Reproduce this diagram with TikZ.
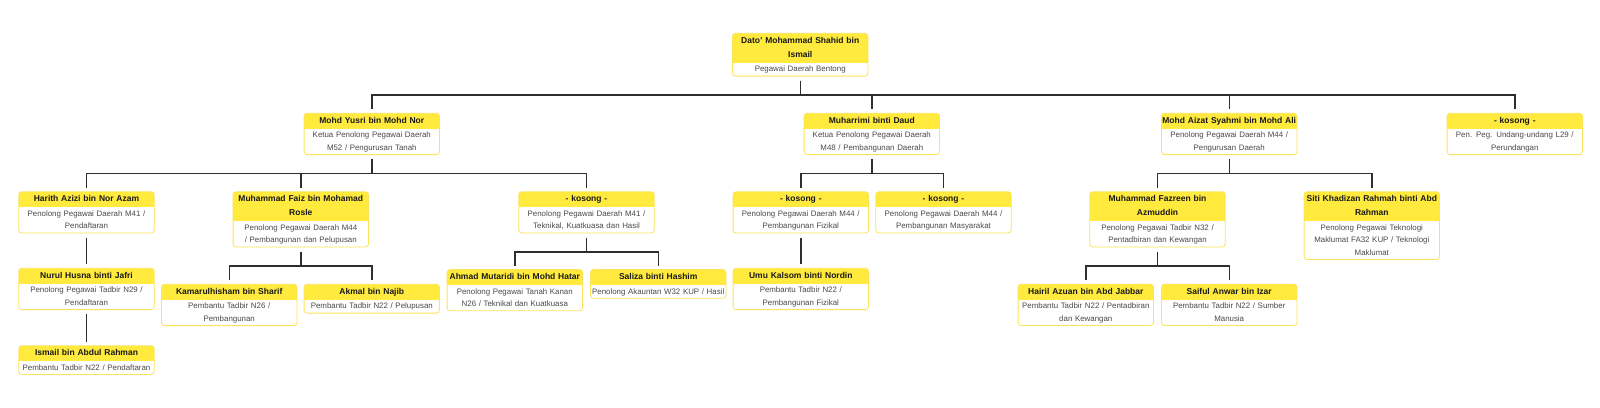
\documentclass[tikz,border=0pt]{standalone}
\usepackage{fontspec}
\setmainfont{Liberation Sans}
\usetikzlibrary{backgrounds}

\definecolor{hdrfill}{HTML}{FFEA3D}
\definecolor{boxedge}{HTML}{FBE35A}
\definecolor{linkcol}{HTML}{2E2E2E}
\definecolor{posttext}{HTML}{4A4A4A}

\tikzset{
    hdr/.style={text width=135pt, inner xsep=0pt, inner ysep=1pt, align=center,
        font=\fontsize{8.5}{14}\selectfont\bfseries, text=black!90,
        execute at begin node=\rule{0pt}{9pt},
        execute at end node=\rule[-4pt]{0pt}{4pt}},
    post/.style={text width=135pt, inner xsep=0pt, inner ysep=0.5pt, align=center,
        font=\fontsize{7.9}{12.5}\selectfont, text=posttext,
        execute at begin node=\rule{0pt}{8.5pt},
        execute at end node=\rule[-3.5pt]{0pt}{3.5pt}},
    link/.style={draw=linkcol, line width=1.4pt, shorten <=4.5pt, shorten >=4pt}
}

% box: id, top centre, name, post
\newcommand{\staffbox}[4]{%
    \node[hdr, anchor=north] (#1) at (#2) {#3};
    \node[post, anchor=north] (#1-p) at (#1.south) {#4};
    \begin{scope}[on background layer]
        \fill[white, rounded corners=3pt] (#1.north west) rectangle (#1-p.south east);
        \begin{scope}
            \clip[rounded corners=3pt] (#1.north west) rectangle (#1-p.south east);
            \fill[hdrfill] (#1.north west) rectangle (#1.south east);
        \end{scope}
        \draw[boxedge, line width=0.8pt, rounded corners=3pt] (#1.north west) rectangle (#1-p.south east);
    \end{scope}
}

\begin{document}
\begin{tikzpicture}[x=1pt, y=-1pt]
        \useasboundingbox (0,0) rectangle (1600,407);

        % Pegawai Daerah
        \staffbox{root}{800.2,33.3}{Dato' Mohammad Shahid bin\\Ismail}{Pegawai Daerah Bentong}

        % Peringkat 1
        \staffbox{yusri}{371.8,113.3}{Mohd Yusri bin Mohd Nor}{Ketua Penolong Pegawai Daerah\\M52 / Pengurusan Tanah}
        \staffbox{muharrimi}{871.8,113.3}{Muharrimi binti Daud}{Ketua Penolong Pegawai Daerah\\M48 / Pembangunan Daerah}
        \staffbox{aizat}{1229.2,113.3}{\makebox[0pt]{Mohd Aizat Syahmi bin Mohd Ali}}{Penolong Pegawai Daerah M44 /\\Pengurusan Daerah}
        \staffbox{kosongA}{1514.8,113.3}{- kosong -}{Pen. Peg. Undang-undang L29 /\\Perundangan}

        % Peringkat 2
        \staffbox{harith}{86.5,191.7}{Harith Azizi bin Nor Azam}{Penolong Pegawai Daerah M41 /\\Pendaftaran}
        \staffbox{faiz}{300.8,191.7}{Muhammad Faiz bin Mohamad\\Rosle}{Penolong Pegawai Daerah M44\\/ Pembangunan dan Pelupusan}
        \staffbox{kosongB}{586.5,191.7}{- kosong -}{Penolong Pegawai Daerah M41 /\\Teknikal, Kuatkuasa dan Hasil}
        \staffbox{kosongC}{800.8,191.7}{- kosong -}{Penolong Pegawai Daerah M44 /\\Pembangunan Fizikal}
        \staffbox{kosongD}{943.5,191.7}{- kosong -}{Penolong Pegawai Daerah M44 /\\Pembangunan Masyarakat}
        \staffbox{fazreen}{1157.5,191.7}{Muhammad Fazreen bin\\Azmuddin}{Penolong Pegawai Tadbir N32 /\\Pentadbiran dan Kewangan}
        \staffbox{siti}{1371.8,191.7}{Siti Khadizan Rahmah binti Abd\\Rahman}{Penolong Pegawai Teknologi\\Maklumat FA32 KUP / Teknologi\\Maklumat}

        % Peringkat 3
        \staffbox{nurul}{86.5,268.3}{Nurul Husna binti Jafri}{Penolong Pegawai Tadbir N29 /\\Pendaftaran}
        \staffbox{kamarul}{229.2,284.3}{Kamarulhisham bin Sharif}{Pembantu Tadbir N26 /\\Pembangunan}
        \staffbox{akmal}{371.8,284.3}{Akmal bin Najib}{Pembantu Tadbir N22 / Pelupusan}
        \staffbox{ahmad}{514.8,269.5}{\makebox[0pt]{Ahmad Mutaridi bin Mohd Hatar}}{Penolong Pegawai Tanah Kanan\\N26 / Teknikal dan Kuatkuasa}
        \staffbox{saliza}{658.2,269.5}{Saliza binti Hashim}{Penolong Akauntan W32 KUP / Hasil}
        \staffbox{umu}{800.8,268.3}{Umu Kalsom binti Nordin}{Pembantu Tadbir N22 /\\Pembangunan Fizikal}
        \staffbox{hairil}{1085.8,284.2}{Hairil Azuan bin Abd Jabbar}{Pembantu Tadbir N22 / Pentadbiran\\dan Kewangan}
        \staffbox{saiful}{1229.2,284.2}{Saiful Anwar bin Izar}{Pembantu Tadbir N22 / Sumber\\Manusia}

        % Peringkat 4
        \staffbox{ismail}{86.5,345.7}{Ismail bin Abdul Rahman}{Pembantu Tadbir N22 / Pendaftaran}

        % Garis hubungan
        \foreach \kid in {yusri, muharrimi, aizat, kosongA}
            \draw[link] (root-p.south) -- ++(0,19) -| (\kid.north);
        \foreach \kid in {harith, faiz, kosongB}
            \draw[link] (yusri-p.south) -- ++(0,19) -| (\kid.north);
        \foreach \kid in {kosongC, kosongD}
            \draw[link] (muharrimi-p.south) -- ++(0,19) -| (\kid.north);
        \foreach \kid in {fazreen, siti}
            \draw[link] (aizat-p.south) -- ++(0,19) -| (\kid.north);
        \draw[link] (harith-p.south) -- (nurul.north);
        \draw[link] (nurul-p.south) -- (ismail.north);
        \foreach \kid in {kamarul, akmal}
            \draw[link] (faiz-p.south) -- ++(0,19) -| (\kid.north);
        \foreach \kid in {ahmad, saliza}
            \draw[link] (kosongB-p.south) -- ++(0,19) -| (\kid.north);
        \draw[link] (kosongC-p.south) -- (umu.north);
        \foreach \kid in {hairil, saiful}
            \draw[link] (fazreen-p.south) -- ++(0,19) -| (\kid.north);

    \end{tikzpicture}
\end{document}
